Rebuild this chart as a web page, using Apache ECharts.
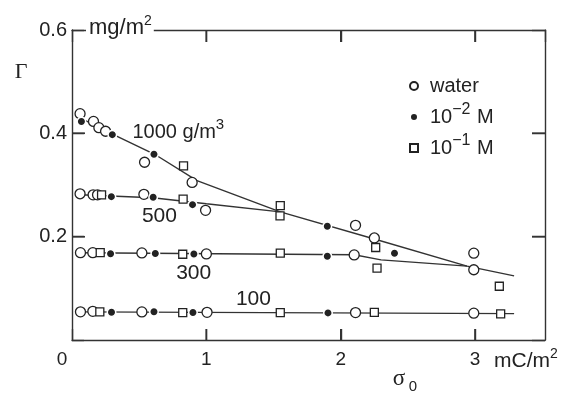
<!DOCTYPE html>
<html><head><meta charset="utf-8">
<script src="https://cdn.jsdelivr.net/npm/echarts@6/dist/echarts.min.js"></script>
<style>html,body{margin:0;padding:0;background:#fff}#c{width:565px;height:394px}</style>
</head><body><div id="c"></div>
<script>
// ---- data ----
const xTicks = [0, 1, 2, 3];
const yTicks = [0.2, 0.4, 0.6];
const seriesNames = ['water', '1e-2 M', '1e-1 M'];
const waterPts = [
  [0.06,0.438],[0.16,0.423],[0.20,0.411],[0.25,0.404],[0.54,0.344],[0.894,0.305],[2.11,0.222],[2.25,0.1975],[2.99,0.168],
  [0.06,0.283],[0.157,0.281],[0.19,0.281],[0.535,0.282],[0.994,0.251],[2.99,0.136],
  [0.063,0.169],[0.155,0.169],[0.52,0.1686],[1.0,0.1666],[2.10,0.1647],
  [0.063,0.0545],[0.155,0.0555],[0.52,0.0543],[1.005,0.0535],[2.11,0.0531],[2.99,0.052]
];
const mM2Pts = [
  [0.07,0.423],[0.30,0.3975],[0.61,0.3595],[1.90,0.220],[2.40,0.168],
  [0.293,0.2775],[0.604,0.2764],[0.897,0.262],
  [0.287,0.167],[0.62,0.1676],[0.907,0.1665],[1.90,0.162],
  [0.294,0.0537],[0.61,0.0545],[0.90,0.0531],[1.905,0.0525]
];
const mM1Pts = [
  [0.83,0.337],[1.55,0.260],[2.26,0.179],[3.18,0.104],
  [0.22,0.281],[0.827,0.2727],[1.548,0.2403],[2.27,0.139],
  [0.21,0.169],[0.824,0.166],[1.55,0.168],
  [0.207,0.0545],[0.824,0.0529],[1.55,0.0529],[2.25,0.0535],[3.19,0.0506]
];
const fit1000 = [[0.06,0.430],[0.305,0.398],[0.615,0.3595],[0.93,0.3085],[1.55,0.248],[2.25,0.1955],[2.94,0.143],[3.29,0.124]];
const fit500 = [[0.06,0.281],[0.6,0.2754],[1.0,0.2636],[1.55,0.248]];
const fit300 = [[0.06,0.169],[2.1,0.165],[2.3,0.155],[2.94,0.143]];
const fit100 = [[0.06,0.0545],[3.29,0.051]];
const curveNames = ['1000 g/m{sup|3}', '500', '300', '100'];

(function () {
// ---- layout / style ----
const FONT = 'Liberation Sans, Arial, sans-serif';
const INK = '#222';
const LINE = '#333';
const X_MAX = 3.52, Y_MAX = 0.6;
const GRID = {left: 72, right: 20, top: 30, bottom: 54};
const W = 565, H = 394;
const curveLabelAt = [[0.45,0.402],[0.52,0.240],[0.775,0.130],[1.22,0.0795]];
const curveLabelSize = [20, 21, 21, 21];
const legendText = {
  'water': 'water',
  '1e-2 M': '10{sup|\u22122} M',
  '1e-1 M': '10{sup|\u22121} M'
};

const chart = echarts.init(document.getElementById('c'), null, {renderer: 'canvas', width: W, height: H});
const axLine = {show: true, onZero: false, lineStyle: {color: LINE, width: 1.4}};
const tickOpt = (len) => ({show: true, inside: true, length: len, lineStyle: {color: LINE, width: 1.4}});
const xBase = {type: 'value', min: 0, max: X_MAX, interval: 1, splitLine: {show: false}, axisLine: axLine};
const yBase = {type: 'value', min: 0, max: Y_MAX, interval: 0.2, splitLine: {show: false}, axisLine: axLine};
const segSeries = (d, n, z) => ({name: n, type: 'line', data: d, symbol: 'none', silent: true, z: z,
  lineStyle: {color: LINE, width: 1.4}, animation: false});
const tickMarks = (n, pts, size, offset) => ({name: n, type: 'scatter', data: pts, symbol: 'rect',
  symbolSize: size, symbolOffset: offset, silent: true, z: 6, clip: false, animation: false,
  itemStyle: {color: LINE, opacity: 1, borderWidth: 0}});
const xIn = xTicks.filter(v => v > 0);
const yIn = yTicks.filter(v => v < Y_MAX - 1e-9);

chart.setOption({
  animation: false,
  backgroundColor: '#fff',
  grid: {left: GRID.left, right: GRID.right, top: GRID.top, bottom: GRID.bottom, containLabel: false, outerBoundsMode: 'none'},
  xAxis: [
    Object.assign({}, xBase, {position: 'bottom', axisTick: tickOpt(11),
      axisLabel: {show: true, margin: 10, fontSize: 19, fontFamily: FONT, color: INK,
        showMaxLabel: false,
        formatter: v => v === 0 ? '{z|0}' : (xTicks.indexOf(v) >= 0 ? String(v) : ''),
        rich: {z: {fontSize: 19, fontFamily: FONT, color: INK, padding: [0, 20, 0, 0]}}}}),
    Object.assign({}, xBase, {position: 'top', axisTick: tickOpt(12), axisLabel: {show: false}})
  ],
  yAxis: [
    Object.assign({}, yBase, {position: 'left', axisTick: tickOpt(12),
      axisLabel: {show: true, margin: 5, fontSize: 20, fontFamily: FONT, color: INK,
        formatter: v => (yTicks.some(t => Math.abs(t - v) < 1e-9) ? v.toFixed(1) : '')}}),
    Object.assign({}, yBase, {position: 'right', axisTick: tickOpt(13), axisLabel: {show: false}})
  ],
  legend: {
    data: seriesNames, orient: 'vertical', left: 404, top: 66, itemGap: 1,
    itemWidth: 8, itemHeight: 8, selectedMode: false,
    formatter: n => legendText[n],
    textStyle: {fontSize: 20, fontFamily: FONT, color: INK, lineHeight: 30, padding: [0, 0, 0, 7],
      rich: {sup: {fontSize: 16, fontFamily: FONT, color: INK, padding: [0, 1, 14, 0]}}}
  },
  series: [
    segSeries(fit1000, 'fit1000', 2), segSeries(fit500, 'fit500', 2), segSeries(fit300, 'fit300', 2), segSeries(fit100, 'fit100', 2),
    {name: seriesNames[0], type: 'scatter', data: waterPts, symbol: 'circle', symbolSize: 10, z: 4,
      itemStyle: {color: '#fff', borderColor: INK, borderWidth: 1.3, opacity: 1}},
    {name: seriesNames[1], type: 'scatter', data: mM2Pts, symbol: 'circle', symbolSize: 8.5, z: 5,
      itemStyle: {color: INK, borderColor: '#fff', borderWidth: 1.5, opacity: 1}},
    {name: seriesNames[2], type: 'scatter', data: mM1Pts, symbol: 'rect', symbolSize: 8, z: 4,
      itemStyle: {color: '#fff', borderColor: INK, borderWidth: 1.3, opacity: 1}},
    tickMarks('tickB', xIn.map(v => [v, 0]), [1.4, 11], [0, -5.5]),
    tickMarks('tickT', xIn.map(v => [v, Y_MAX]), [1.4, 12], [0, 6]),
    tickMarks('tickL', yIn.map(v => [0, v]), [13, 1.4], [6.5, 0]),
    tickMarks('tickR', yIn.map(v => [X_MAX, v]), [13, 1.4], [-6.5, 0])
  ]
});

// tick marks also as filled rectangles, positioned from the grid's linear scale
const g = [];
const plotW = W - GRID.left - GRID.right, plotH = H - GRID.top - GRID.bottom;
const sx = v => GRID.left + v / X_MAX * plotW;
const sy = v => GRID.top + (1 - v / Y_MAX) * plotH;
const bar = (x, y, w, h) => ({type: 'rect', z: 100, zlevel: 1, silent: true,
  shape: {x: x, y: y, width: w, height: h}, style: {fill: LINE}});
xIn.forEach(v => {
  const x = sx(v);
  g.push(bar(x - 0.7, sy(0) - 11, 1.4, 11));
  g.push(bar(x - 0.7, sy(Y_MAX), 1.4, 12));
});
yIn.forEach(v => {
  const y = sy(v);
  g.push(bar(sx(0), y - 0.7, 13, 1.4));
  g.push(bar(sx(X_MAX) - 13, y - 0.7, 13, 1.4));
});

// annotations
curveNames.forEach((t, i) => {
  const p = [sx(curveLabelAt[i][0]), sy(curveLabelAt[i][1])];
  g.push({type: 'text', z: 50, style: {text: t, x: p[0], y: p[1], align: 'left', verticalAlign: 'middle',
    fontSize: curveLabelSize[i], fontFamily: FONT, fill: INK,
    rich: {sup: {fontSize: 15, fontFamily: FONT, fill: INK, color: INK, padding: [0, 0, 15, 0]}}}});
});
g.push({type: 'text', z: 60, style: {text: 'mg/m{sup|2}', x: 86, y: 28, align: 'left', verticalAlign: 'middle',
  fontSize: 22, fontFamily: FONT, fill: INK, backgroundColor: '#fff', padding: [0, 2, 0, 3],
  rich: {sup: {fontSize: 14, fontFamily: FONT, color: INK, padding: [0, 0, 14, 0]}}}});
g.push({type: 'text', z: 60, style: {text: 'mC/m{sup|2}', x: 494, y: 361, align: 'left', verticalAlign: 'middle',
  fontSize: 21, fontFamily: FONT, fill: INK,
  rich: {sup: {fontSize: 14, fontFamily: FONT, color: INK, padding: [0, 0, 14, 0]}}}});
g.push({type: 'text', z: 60, style: {text: '\u0393', x: 21, y: 72, align: 'center', verticalAlign: 'middle',
  fontSize: 22, fontFamily: 'Liberation Serif, serif', fill: INK}});
g.push({type: 'text', z: 60, style: {text: '\u03c3', x: 399, y: 379, align: 'center', verticalAlign: 'middle',
  fontSize: 23, fontFamily: 'Liberation Serif, serif', fill: INK}});
g.push({type: 'text', z: 60, style: {text: '0', x: 413, y: 387, align: 'center', verticalAlign: 'middle',
  fontSize: 15, fontFamily: FONT, fill: INK}});
chart.setOption({graphic: g});
})();
</script>
</body></html>
